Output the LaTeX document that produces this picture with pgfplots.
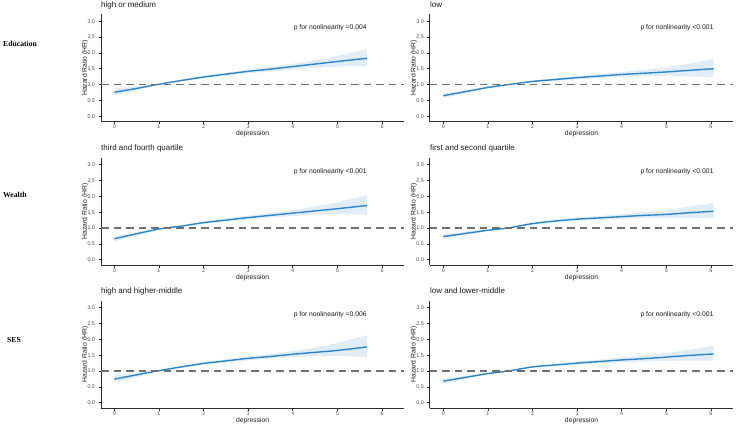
\documentclass[border=0pt]{standalone}
\usepackage{fontspec}
\setmainfont{Liberation Sans}
\newfontfamily\rowfont{Liberation Serif}
\usepackage{pgfplots}
\usepackage{pgfplotstable}
\pgfplotsset{compat=1.18}

\definecolor{hrline}{RGB}{46,134,200}
\definecolor{hrband}{RGB}{224,236,246}
\definecolor{refline}{RGB}{112,112,112}
\definecolor{ticktext}{RGB}{77,77,77}
\definecolor{axline}{RGB}{45,45,45}
\definecolor{labtext}{RGB}{26,26,26}

% Education: high or medium
\pgfplotstableread{
x    hr    lo    hi
0    0.76  0.65  0.88
0.5  0.88  0.82  0.94
0.95 1.00  1.00  1.00
1.5  1.13  1.10  1.16
2    1.24  1.20  1.28
2.5  1.33  1.28  1.38
3    1.42  1.36  1.48
3.5  1.49  1.42  1.57
4    1.57  1.48  1.66
4.5  1.65  1.53  1.77
5    1.73  1.57  1.90
5.66 1.83  1.58  2.12
}\eduhigh
% Education: low
\pgfplotstableread{
x    hr    lo    hi
0    0.65  0.58  0.72
0.5  0.78  0.73  0.83
1    0.91  0.88  0.94
1.45 1.00  1.00  1.00
2    1.10  1.07  1.13
2.5  1.16  1.12  1.20
3    1.22  1.17  1.27
3.5  1.27  1.21  1.33
4    1.32  1.24  1.40
4.5  1.36  1.26  1.47
5    1.40  1.27  1.55
5.5  1.45  1.26  1.66
6.06 1.50  1.24  1.81
}\edulow
% Wealth: third and fourth quartile
\pgfplotstableread{
x    hr    lo    hi
0    0.66  0.58  0.74
0.5  0.82  0.77  0.87
1    0.97  0.95  0.99
1.15 1.00  1.00  1.00
1.5  1.06  1.04  1.08
2    1.17  1.13  1.21
2.5  1.25  1.20  1.30
3    1.33  1.27  1.39
3.5  1.40  1.33  1.48
4    1.47  1.38  1.57
4.5  1.54  1.42  1.68
5    1.61  1.44  1.81
5.66 1.71  1.42  2.03
}\wealthhigh
% Wealth: first and second quartile
\pgfplotstableread{
x    hr    lo    hi
0    0.73  0.65  0.81
0.5  0.83  0.78  0.88
1    0.93  0.90  0.96
1.45 1.00  1.00  1.00
2    1.14  1.11  1.17
2.5  1.22  1.18  1.26
3    1.28  1.23  1.33
3.5  1.32  1.26  1.38
4    1.36  1.29  1.44
4.5  1.40  1.31  1.50
5    1.43  1.32  1.57
5.5  1.48  1.32  1.67
6.06 1.53  1.30  1.79
}\wealthlow
% SES: high and higher-middle
\pgfplotstableread{
x    hr    lo    hi
0    0.745 0.63  0.86
0.5  0.88  0.81  0.95
0.95 1.00  1.00  1.00
1.5  1.13  1.10  1.16
2    1.24  1.20  1.28
2.5  1.32  1.27  1.37
3    1.40  1.34  1.46
3.5  1.46  1.39  1.54
4    1.53  1.44  1.63
4.5  1.59  1.47  1.74
5    1.65  1.48  1.88
5.66 1.76  1.43  2.13
}\seshigh
% SES: low and lower-middle
\pgfplotstableread{
x    hr    lo    hi
0    0.68  0.60  0.77
0.5  0.80  0.75  0.85
1    0.92  0.89  0.95
1.45 1.00  1.00  1.00
2    1.13  1.10  1.16
2.5  1.19  1.15  1.23
3    1.25  1.20  1.30
3.5  1.30  1.24  1.36
4    1.35  1.27  1.43
4.5  1.39  1.30  1.49
5    1.44  1.32  1.57
5.5  1.49  1.33  1.67
6.06 1.54  1.33  1.80
}\seslow

\pgfplotsset{
  rcspanel/.style={
    scale only axis, width=303.3bp, height=107.4bp,
    anchor=south west,
    xmin=-0.3, xmax=6.5, ymin=-0.17, ymax=3.22,
    axis lines*=left,
    axis line style={axline, line width=0.9bp},
    xtick={0,1,2,3,4,5,6}, ytick={0,0.5,1,1.5,2,2.5,3},
    tick align=outside, major tick length=2.5bp,
    tick style={axline, line width=0.6bp},
    tick label style={font=\fontsize{5.4}{6}\selectfont, text=ticktext},
    /pgf/number format/assume math mode=true,
    yticklabel style={/pgf/number format/.cd, fixed, fixed zerofill, precision=1},
    xticklabel style={inner sep=0pt, yshift=-0.6bp,
      /pgf/number format/.cd, fixed, precision=0},
    xlabel={depression}, ylabel={Hazard Ratio (HR)},
    every axis x label/.style={at={(axis description cs:0.5,0)}, anchor=center,
      yshift=-12.5bp, inner sep=0pt, font=\fontsize{6.8}{8}\selectfont, text=labtext},
    every axis y label/.style={at={(axis description cs:0,0.5)}, xshift=-16bp,
      anchor=center, rotate=90, inner sep=0pt,
      font=\fontsize{6.8}{8}\selectfont, text=labtext},
    every axis title/.style={at={(axis description cs:0,1)}, anchor=base west,
      yshift=7bp, inner sep=0pt, font=\fontsize{8}{9}\selectfont, text=labtext},
  }
}

% one spline panel: x, y, title, table, last x, p-value text
\newcommand\rcspanel[6]{%
  \begin{axis}[rcspanel, at={(#1bp,#2bp)}, title={#3}]
    % confidence band: lower bound, then the band width stacked on it
    \addplot[draw=none, stack plots=y, forget plot] table[x=x, y=lo]{#4};
    \addplot[fill=hrband, draw=none, stack plots=y, forget plot]
      table[x=x, y expr=\thisrow{hi}-\thisrow{lo}]{#4} \closedcycle;
    \addplot[hrline, line width=1.4bp, smooth, stack plots=false] table[x=x, y=hr]{#4};
    \addplot[refline, line width=1.4bp, dash pattern=on 7.5bp off 5bp, stack plots=false]
      coordinates {(-0.3,1) (6.5,1)};
    \node[anchor=east, inner sep=0pt, font=\fontsize{6.8}{8}\selectfont, text=labtext]
      at (axis cs:#5,2.79) {#6};
  \end{axis}}

\begin{document}
\begin{tikzpicture}
  \useasboundingbox (0,0) rectangle (736bp,426bp);

  \rcspanel{101}{304.3}{high or medium}{\eduhigh}{5.66}{p for nonlinearity =0.004}
  \rcspanel{429.9}{304.3}{low}{\edulow}{6.06}{p for nonlinearity <0.001}
  \rcspanel{101}{160.9}{third and fourth quartile}{\wealthhigh}{5.66}{p for nonlinearity <0.001}
  \rcspanel{429.9}{160.9}{first and second quartile}{\wealthlow}{6.06}{p for nonlinearity <0.001}
  \rcspanel{101}{17.9}{high and higher-middle}{\seshigh}{5.66}{p for nonlinearity =0.006}
  \rcspanel{429.9}{17.9}{low and lower-middle}{\seslow}{6.06}{p for nonlinearity <0.001}

  \begin{scope}[every node/.style={anchor=base west, inner sep=0pt,
      font=\rowfont\bfseries\fontsize{7.7}{9}\selectfont}]
    \node at (3bp,379.3bp) {Education};
    \node at (3bp,228.7bp) {Wealth};
    \node at (7bp,83.7bp) {SES};
  \end{scope}
\end{tikzpicture}
\end{document}
